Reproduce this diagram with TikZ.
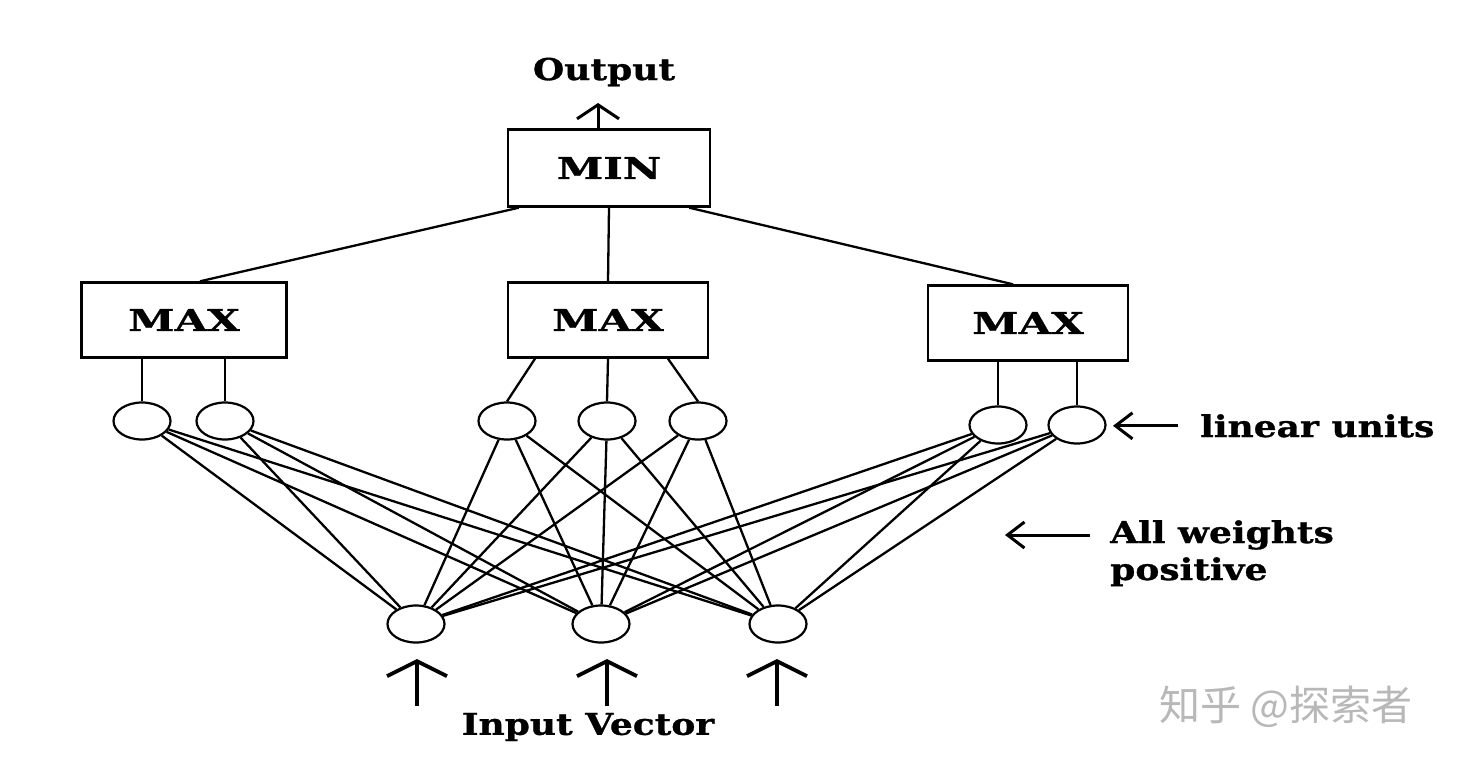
\documentclass[tikz,border=0pt]{standalone}
\usepackage{fontspec}
\setmainfont{DejaVu Serif}
\newfontfamily\lblfont[FakeStretch=1.2,FakeBold=1]{DejaVu Serif}
\newfontfamily\widefont[FakeStretch=1.4,FakeBold=1]{DejaVu Serif}
\newfontfamily\cjk{Noto Sans CJK SC}
\usetikzlibrary{arrows.meta,shapes.geometric}
\begin{document}
\begin{tikzpicture}[x=1pt,y=-1pt,
  opbox/.style={draw,line width=2.4pt,minimum width=200pt,minimum height=75pt,inner sep=0pt,
    font=\widefont\bfseries\fontsize{30}{34}\selectfont},
  unit/.style={draw,ellipse,line width=2.2pt,minimum width=57pt,minimum height=37pt,inner sep=0pt},
  wire/.style={line width=2.3pt},
  lbl/.style={inner sep=0pt,font=\lblfont\bfseries\fontsize{30}{40}\selectfont},
  bigarrow/.style={line width=3.8pt,-{Straight Barb[length=15pt,width=60pt,line width=3.8pt]}},
  sidearrow/.style={line width=3pt,-{Straight Barb[length=17pt,width=26pt,line width=3pt]}},
  outarrow/.style={line width=3pt,-{Straight Barb[length=14pt,width=42pt,line width=3pt]}},
  wmark/.style={inner sep=0pt,text=black!28,font=\cjk\fontsize{41}{44}\selectfont}
]
\useasboundingbox (0,0) rectangle (1458,766);
\fill[white] (0,0) rectangle (1458,766);

% boxes
\node[opbox,minimum width=202pt,minimum height=77pt] (min) at (609,168) {MIN};
\node[opbox,minimum width=205pt] (maxL) at (184,320) {MAX};
\node[opbox] (maxM) at (608,320) {MAX};
\node[opbox] (maxR) at (1028,323) {MAX};

% linear units
\node[unit] (l1) at (142,421) {};
\node[unit] (l2) at (225,421) {};
\node[unit] (l3) at (507,421) {};
\node[unit] (l4) at (607,421) {};
\node[unit] (l5) at (698,421) {};
\node[unit] (l6) at (998,425) {};
\node[unit] (l7) at (1077,425) {};

% inputs
\node[unit] (i1) at (416,624) {};
\node[unit] (i2) at (601,624) {};
\node[unit] (i3) at (778,624) {};

% output
\node[lbl] (out) at (604,72) {Output};
\coordinate (outtip) at (598,103);
\draw[outarrow] ([xshift=-11pt]min.north) -- (outtip);

% MIN to MAX
\draw[wire] ([xshift=12pt]min.south west) -- ([xshift=16pt]maxL.north);
\draw[wire] (min.south) -- (maxM.north);
\draw[wire] ([xshift=-22pt]min.south east) -- ([xshift=-15pt]maxR.north);

% MAX to linear units
\draw[wire] (l1.north) -- (l1.north |- maxL.south);
\draw[wire] (l2.north) -- (l2.north |- maxL.south);
\draw[wire] (l3.north) -- ([xshift=-73pt]maxM.south);
\draw[wire] (l4.north) -- (maxM.south);
\draw[wire] (l5.north) -- ([xshift=60pt]maxM.south);
\draw[wire] (l6.north) -- (l6.north |- maxR.south);
\draw[wire] (l7.north) -- (l7.north |- maxR.south);

% all weights
\foreach \u in {l1,l2,l3,l4,l5,l6,l7}{
  \foreach \v in {i1,i2,i3}{
    \draw[wire] (\u) -- (\v);
  }
}

% input arrows
\foreach \v/\x in {i1/417,i2/607,i3/777}{
  \coordinate (\v tail) at (\x,706);
  \coordinate (\v tip) at (\x,659);
  \draw[bigarrow] (\v tail) -- (\v tip);
}
\node[lbl] (invec) at (588,727) {Input Vector};

% side labels
\node[lbl,anchor=base west] (linlbl) at (1200,437) {linear units};
\draw[sidearrow] ([xshift=-22pt]linlbl.west) -- ([xshift=-87pt]linlbl.west);
\node[lbl,anchor=base west] (wlbl) at (1110,543) {All weights};
\node[lbl,anchor=base west] (plbl) at (1110,580) {positive};
\coordinate (wtip) at (1005,535);
\draw[sidearrow] (1090,535) -- (wtip);

% watermark
\node[wmark] (wm) at (1286,707) {知乎 @探索者};
\end{tikzpicture}
\end{document}
